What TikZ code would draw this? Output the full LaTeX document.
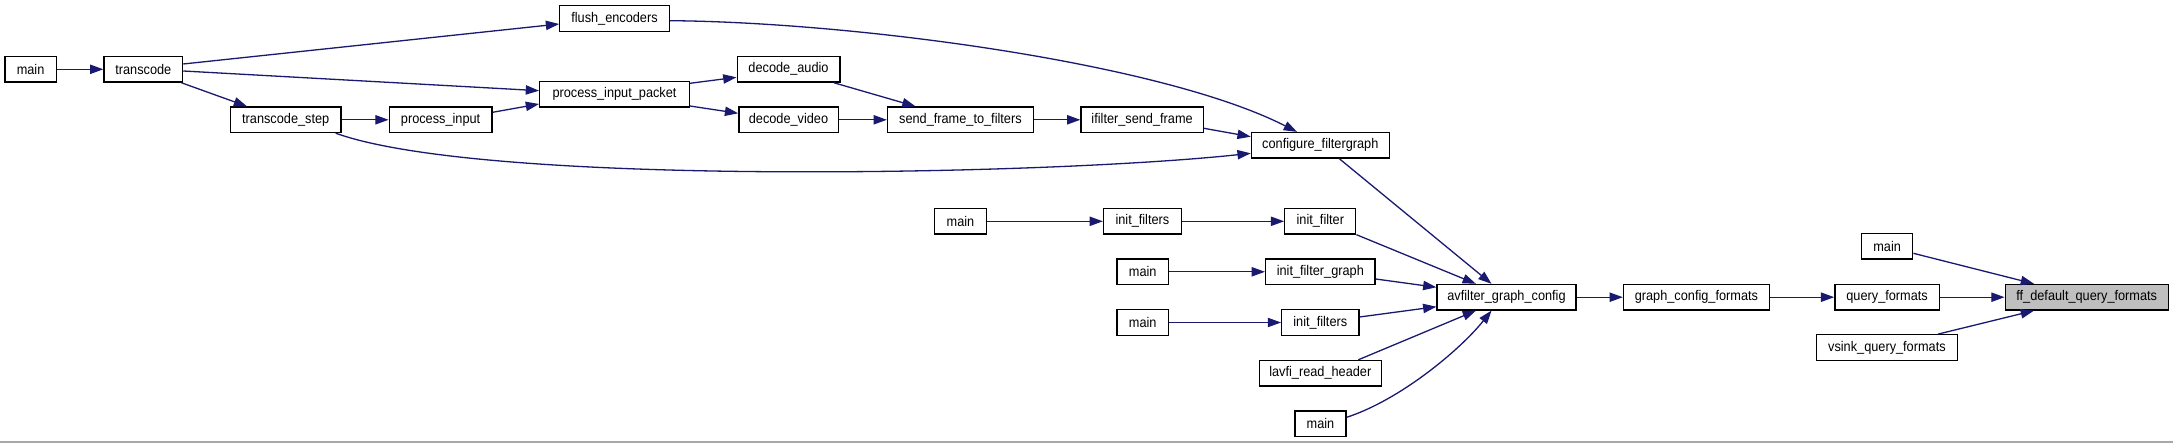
\documentclass[tikz,border=0pt]{standalone}
\usepackage{fontspec}
\setmainfont{Liberation Sans}[FakeStretch=0.91]
\usetikzlibrary{arrows.meta}
\definecolor{edgeblue}{HTML}{191970}
\definecolor{hlgrey}{HTML}{BFBFBF}
\definecolor{framegrey}{HTML}{A8A8A8}
\begin{document}
\begin{tikzpicture}[x=1pt,y=-1pt,
  fn/.style={draw=black,fill=white,line width=1.3pt,inner sep=0pt,minimum height=25.5pt,
    font=\fontsize{14}{16}\selectfont,anchor=center},
  hl/.style={fn,fill=hlgrey},
  edge/.style={draw=edgeblue,line width=1.3pt,
    -{Triangle[length=13.3pt,width=9.3pt,fill=edgeblue]}}]
\useasboundingbox (0,0) rectangle (2173,443);
\fill[white] (0,0) rectangle (2173,443);
\draw[framegrey,line width=1.3pt] (0,442) -- (2173,442);

% nodes
\node[fn,minimum width=51.3pt] (main0) at (30.6,69.3) {main};
\node[fn,minimum width=78.6pt] (transcode) at (143.3,69.3) {transcode};
\node[fn,minimum width=109.4pt] (flush) at (614.5,18.5) {flush\_encoders};
\node[fn,minimum width=149.6pt] (pip) at (614.5,94.2) {process\_input\_packet};
\node[fn,minimum width=110.7pt] (tstep) at (285.7,119.8) {transcode\_step};
\node[fn,minimum width=102.7pt] (pinput) at (440.6,119.8) {process\_input};
\node[fn,minimum width=102.7pt] (daudio) at (788.5,69.3) {decode\_audio};
\node[fn,minimum width=99.3pt] (dvideo) at (788.5,119.8) {decode\_video};
\node[fn,minimum width=145.8pt] (sfilters) at (960.4,119.8) {send\_frame\_to\_filters};
\node[fn,minimum width=122.2pt] (ifsend) at (1142.1,119.8) {ifilter\_send\_frame};
\node[fn,minimum width=137.8pt] (config) at (1320.3,145.3) {configure\_filtergraph};
\node[fn,minimum width=51.4pt] (mainA) at (960.5,221.3) {main};
\node[fn,minimum width=77.7pt] (initfA) at (1142.4,221.3) {init\_filters};
\node[fn,minimum width=71pt] (initf) at (1320.3,221.3) {init\_filter};
\node[fn,minimum width=51.3pt] (mainB) at (1142.7,271.8) {main};
\node[fn,minimum width=109.4pt] (initfg) at (1320.3,271.8) {init\_filter\_graph};
\node[fn,minimum width=138.9pt] (avf) at (1506.5,297.2) {avfilter\_graph\_config};
\node[fn,minimum width=51.3pt] (mainC) at (1142.7,322.5) {main};
\node[fn,minimum width=77.2pt] (initfB) at (1320.3,322.5) {init\_filters};
\node[fn,minimum width=121.9pt] (lavfi) at (1320.3,373.2) {lavfi\_read\_header};
\node[fn,minimum width=51pt] (mainD) at (1320.5,423.8) {main};
\node[fn,minimum width=145.8pt] (gcf) at (1696.4,297.2) {graph\_config\_formats};
\node[fn,minimum width=104.4pt] (qf) at (1887.1,297.2) {query\_formats};
\node[fn,minimum width=51.2pt] (mainE) at (1887.1,246.3) {main};
\node[fn,minimum width=140.6pt] (vsink) at (1886.9,347.5) {vsink\_query\_formats};
\node[hl,minimum width=162.9pt] (ffd) at (2086.7,297.2) {ff\_default\_query\_formats};

% edges
\draw[edge] (main0) -- (transcode);
\draw[edge] ([yshift=5.3pt]transcode.east) -- ([yshift=-5.5pt]flush.west);
\draw[edge] ([yshift=-1.7pt]transcode.east) -- ([yshift=3.5pt]pip.west);
\draw[edge] ([xshift=-2pt]transcode.south east) -- ([xshift=17.4pt]tstep.north west);
\draw[edge] (tstep) -- (pinput);
\draw[edge] ([yshift=7.5pt]pinput.east) -- ([yshift=-9.8pt]pip.west);
\draw[edge] ([xshift=-6pt]tstep.south east) .. controls (485,187) and (1050,175) .. ([yshift=-8pt]config.west);
\draw[edge] ([yshift=-2.2pt]flush.east) .. controls (850,22) and (1160,62) .. ([xshift=-23.3pt]config.north);
\draw[edge] ([yshift=10.9pt]pip.east) -- ([yshift=-8pt]daudio.west);
\draw[edge] ([yshift=-11.8pt]pip.east) -- ([yshift=6.5pt]dvideo.west);
\draw[edge] ([xshift=-6.8pt]daudio.south east) -- ([xshift=28.7pt]sfilters.north west);
\draw[edge] (dvideo) -- (sfilters);
\draw[edge] (sfilters) -- (ifsend);
\draw[edge] ([yshift=-8.5pt]ifsend.east) -- ([yshift=8.6pt]config.west);
\draw[edge] ([xshift=19pt]config.south) -- ([xshift=-15pt]avf.north);
\draw[edge] (mainA) -- (initfA);
\draw[edge] (initfA) -- (initf);
\draw[edge] (initf.south east) -- ([xshift=-30.6pt]avf.north);
\draw[edge] (mainB) -- (initfg);
\draw[edge] ([yshift=-7.2pt]initfg.east) -- ([yshift=9.9pt]avf.west);
\draw[edge] (mainC) -- (initfB);
\draw[edge] ([yshift=5.5pt]initfB.east) -- ([yshift=-9.5pt]avf.west);
\draw[edge] ([xshift=-23.6pt]lavfi.north east) -- ([xshift=-30.5pt]avf.south);
\draw[edge] ([yshift=6.5pt]mainD.east) .. controls (1400,400) and (1460,350) .. ([xshift=-15pt]avf.south);
\draw[edge] (avf) -- (gcf);
\draw[edge] (gcf) -- (qf);
\draw[edge] (qf) -- (ffd);
\draw[edge] ([yshift=-7pt]mainE.east) -- ([xshift=29.4pt]ffd.north west);
\draw[edge] ([xshift=-19.8pt]vsink.north east) -- ([xshift=29.4pt]ffd.south west);
\end{tikzpicture}
\end{document}
